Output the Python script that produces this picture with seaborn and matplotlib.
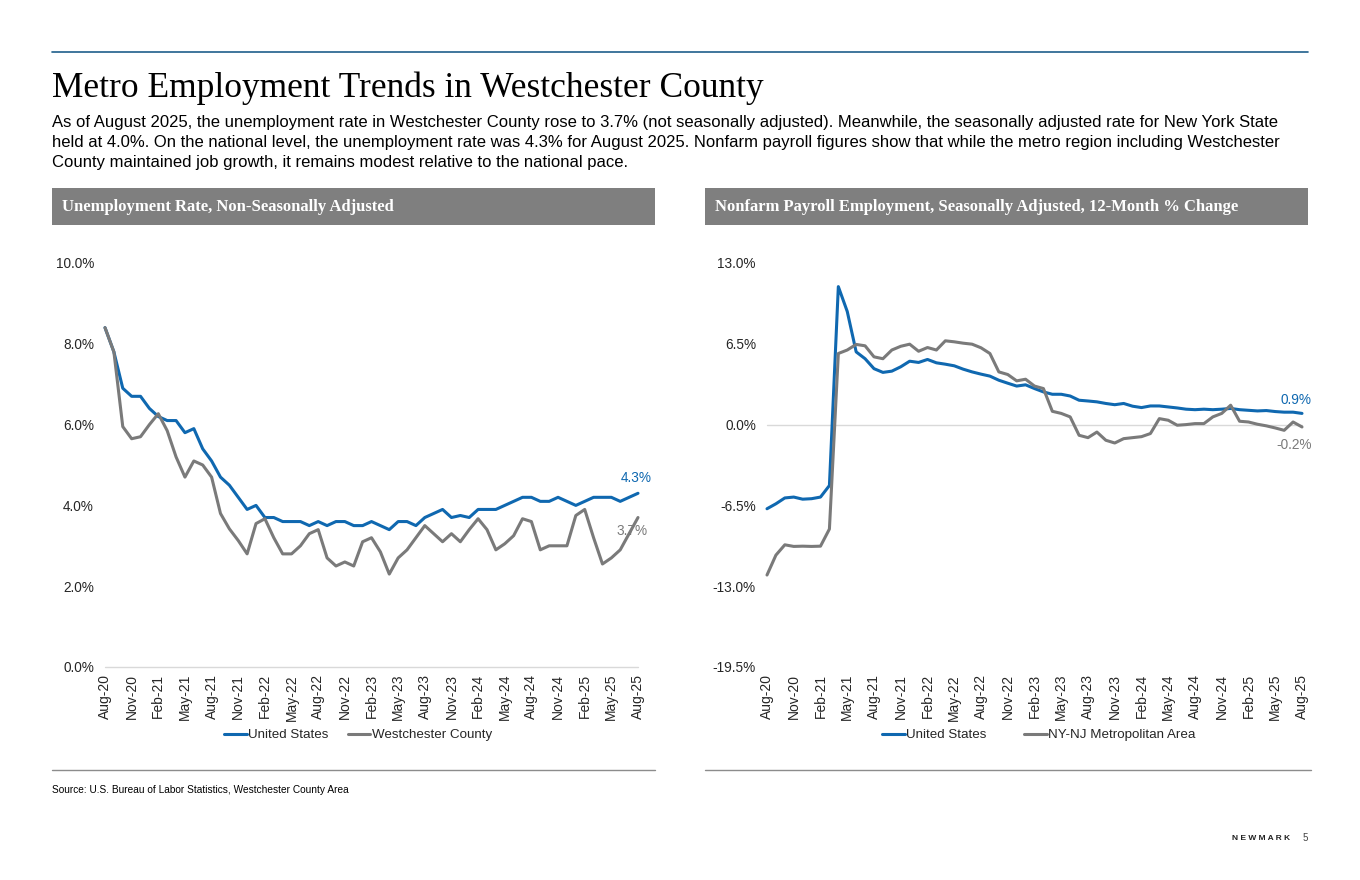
import numpy as np
import pandas as pd
import matplotlib
matplotlib.use("Agg")
import matplotlib.pyplot as plt
import seaborn as sns

# monthly values, Aug-20 .. Aug-25 (61 months)
us_unemp = [8.4, 7.8, 6.9, 6.7, 6.7, 6.4, 6.2, 6.1, 6.1, 5.8, 5.9, 5.4, 5.1, 4.7, 4.5, 4.2,
            3.9, 4.0, 3.7, 3.7, 3.6, 3.6, 3.6, 3.5, 3.6, 3.5, 3.6, 3.6, 3.5, 3.5, 3.6, 3.5,
            3.4, 3.6, 3.6, 3.5, 3.7, 3.8, 3.9, 3.7, 3.75, 3.7, 3.9, 3.9, 3.9, 4.0, 4.1, 4.2,
            4.2, 4.1, 4.1, 4.2, 4.1, 4.0, 4.1, 4.2, 4.2, 4.2, 4.1, 4.2, 4.3]
westchester_unemp = [8.4, 7.8, 5.95, 5.65, 5.7, 6.0, 6.27, 5.85, 5.2, 4.7, 5.1, 5.0, 4.7, 3.8,
                     3.42, 3.13, 2.8, 3.55, 3.67, 3.2, 2.8, 2.8, 3.0, 3.3, 3.4, 2.7, 2.5, 2.6,
                     2.5, 3.1, 3.2, 2.85, 2.3, 2.7, 2.9, 3.2, 3.5, 3.3, 3.1, 3.3, 3.1, 3.4,
                     3.67, 3.4, 2.9, 3.05, 3.25, 3.67, 3.6, 2.9, 3.0, 3.0, 3.0, 3.75, 3.9, 3.2,
                     2.55, 2.7, 2.9, 3.3, 3.7]
us_payroll = [-6.77, -6.37, -5.9, -5.83, -6.0, -5.96, -5.83, -4.9, 11.1, 9.1, 5.85, 5.3, 4.5,
              4.2, 4.3, 4.65, 5.1, 5.0, 5.24, 4.97, 4.86, 4.73, 4.46, 4.24, 4.06, 3.9, 3.57,
              3.33, 3.1, 3.2, 2.9, 2.63, 2.44, 2.44, 2.3, 1.96, 1.9, 1.83, 1.7, 1.6, 1.7, 1.48,
              1.37, 1.5, 1.5, 1.42, 1.34, 1.24, 1.2, 1.24, 1.2, 1.24, 1.3, 1.2, 1.15, 1.1,
              1.13, 1.05, 1.0, 1.0, 0.9]
nynj_payroll = [-12.1, -10.5, -9.67, -9.8, -9.78, -9.8, -9.78, -8.4, 5.72, 6.0, 6.45, 6.34,
                5.45, 5.3, 6.0, 6.3, 6.47, 5.9, 6.2, 6.0, 6.74, 6.66, 6.55, 6.47, 6.18, 5.72,
                4.24, 4.03, 3.52, 3.65, 3.1, 2.9, 1.07, 0.9, 0.62, -0.86, -1.05, -0.6, -1.26,
                -1.48, -1.13, -1.05, -0.97, -0.72, 0.48, 0.35, -0.05, 0.0, 0.08, 0.08, 0.62,
                0.9, 1.56, 0.27, 0.21, 0.03, -0.1, -0.27, -0.46, 0.21, -0.19]
tick_labels = ["Aug-20", "Nov-20", "Feb-21", "May-21", "Aug-21", "Nov-21", "Feb-22", "May-22",
               "Aug-22", "Nov-22", "Feb-23", "May-23", "Aug-23", "Nov-23", "Feb-24", "May-24",
               "Aug-24", "Nov-24", "Feb-25", "May-25", "Aug-25"]

BLUE = "#0f68b0"
GRAY = "#7a7a7a"
HEAD = "#7f7f7f"
W, H = 1360, 880

sns.set_theme(style="white")
plt.rcParams["font.family"] = ["Liberation Sans", "DejaVu Sans"]

fig = plt.figure(figsize=(13.6, 8.8), dpi=100)


def fx(px):
    return px / W


def fy(py):
    return 1 - py / H


# top rule, title, intro text
fig.add_artist(plt.Line2D([fx(52), fx(1308)], [fy(52), fy(52)], color="#1f5f8b", lw=1.2))
fig.text(fx(52), fy(88), "Metro Employment Trends in Westchester County", family="Liberation Serif",
         fontsize=25.5, va="center", ha="left", color="black")
para = ["As of August 2025, the unemployment rate in Westchester County rose to 3.7% (not seasonally adjusted). Meanwhile, the seasonally adjusted rate for New York State",
        "held at 4.0%. On the national level, the unemployment rate was 4.3% for August 2025. Nonfarm payroll figures show that while the metro region including Westchester",
        "County maintained job growth, it remains modest relative to the national pace."]
for k, line in enumerate(para):
    fig.text(fx(52), fy(122 + 20 * k), line, fontsize=11.95, va="center", ha="left", color="black")


def header(x0, x1, txt):
    fig.add_artist(plt.Rectangle((fx(x0), fy(225)), fx(x1) - fx(x0), fy(188) - fy(225),
                                 color=HEAD, lw=0, transform=fig.transFigure))
    fig.text(fx(x0 + 10), fy(207), txt, family="Liberation Serif", weight="bold",
             fontsize=12.0, color="white", va="center", ha="left")


header(52, 655, "Unemployment Rate, Non-Seasonally Adjusted")
header(705, 1308, "Nonfarm Payroll Employment, Seasonally Adjusted, 12-Month % Change")

months = np.arange(len(us_unemp))
tick_pos = months[::3]


def panel(x0, x1, s1, s2, n1, n2, ylim, yticks, lab_offsets, leg_x, colsp):
    ax = fig.add_axes([fx(x0), fy(667), fx(x1) - fx(x0), fy(263) - fy(667)])
    ax.axhline(0, color="#d9d9d9", lw=1, zorder=0)
    sns.lineplot(x=months, y=s1, ax=ax, color=BLUE, lw=2.2, label=n1)
    sns.lineplot(x=months, y=s2, ax=ax, color=GRAY, lw=2.2, label=n2)
    ax.set_xlim(0, 60)
    ax.set_ylim(*ylim)
    ax.set_yticks(yticks)
    ax.set_yticklabels([f"{v:.1f}%" for v in yticks], fontsize=9.8)
    ax.set_xticks(tick_pos)
    ax.set_xticklabels(tick_labels, rotation=90, fontsize=10)
    ax.tick_params(axis="y", length=0, pad=8)
    ax.tick_params(axis="x", length=0, pad=5)
    ax.set_xlabel("")
    ax.set_ylabel("")
    for sp in ax.spines.values():
        sp.set_visible(False)
    ax.grid(False)
    for s, c, off in ((s1, BLUE, lab_offsets[0]), (s2, GRAY, lab_offsets[1])):
        ax.annotate(f"{s[-1]:.1f}%", xy=(60, s[-1]), xytext=off, textcoords="offset points",
                    ha="center", va="center", color=c, fontsize=9.8, annotation_clip=False)
    for line in ax.get_lines():
        line.set_clip_on(False)
    ax.legend(loc="center", bbox_to_anchor=(fx(leg_x), fy(735)), bbox_transform=fig.transFigure,
              ncol=2, frameon=False, fontsize=9.6, handlelength=1.7, handletextpad=0.1,
              columnspacing=colsp)
    return ax


panel(105, 638, us_unemp, westchester_unemp, "United States", "Westchester County",
      (0, 10), [0, 2, 4, 6, 8, 10], [(-1, 11), (-4, -10)], 358, 1.45)
panel(767, 1302, us_payroll, nynj_payroll, "United States", "NY-NJ Metropolitan Area",
      (-19.5, 13), [-19.5, -13.0, -6.5, 0.0, 6.5, 13.0], [(-4, 10), (-6, -13)], 1039, 2.8)

# bottom rules and footer
for a, b in ((52, 655), (705, 1311)):
    fig.add_artist(plt.Line2D([fx(a), fx(b)], [fy(770), fy(770)], color="#8c8c8c", lw=1))
fig.text(fx(52), fy(790), "Source: U.S. Bureau of Labor Statistics, Westchester County Area",
         fontsize=7.25, va="center", ha="left", color="black")
fig.text(fx(1290), fy(838), "N E W M A R K", fontsize=6.0, weight="bold", va="center", ha="right",
         color="#222222")
fig.text(fx(1308), fy(838), "5", fontsize=7, va="center", ha="right", color="#444444")

fig.savefig("out.png", dpi=100)
